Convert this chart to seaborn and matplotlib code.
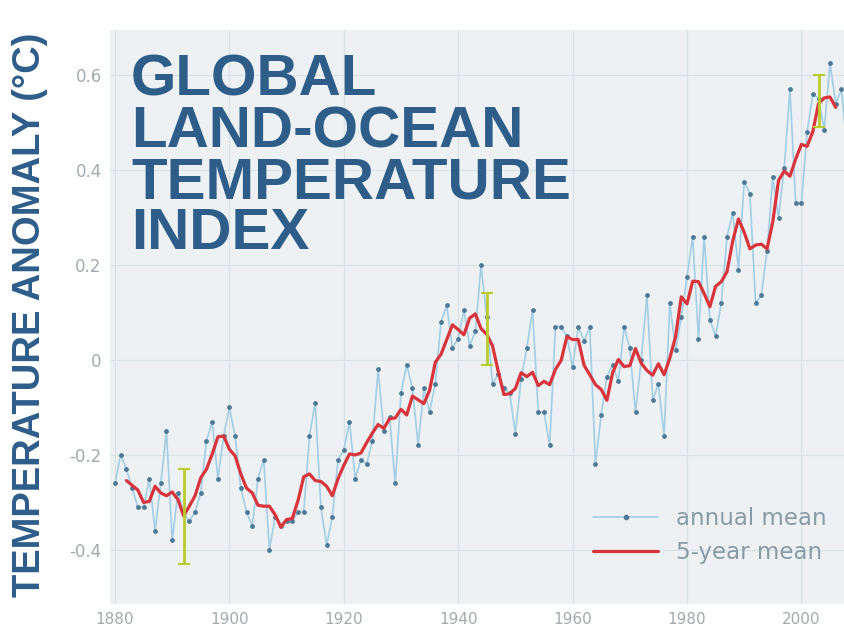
import matplotlib
matplotlib.use("Agg")
import matplotlib.pyplot as plt
from matplotlib.lines import Line2D
import seaborn as sns
import pandas as pd

# annual global land-ocean temperature anomaly (deg C), 1880-2008
years = list(range(1880, 2009))
annual_mean = [
    -0.26, -0.20, -0.23, -0.27, -0.31, -0.31, -0.25, -0.36, -0.26, -0.15,  # 1880s
    -0.38, -0.28, -0.32, -0.34, -0.32, -0.28, -0.17, -0.13, -0.25, -0.16,  # 1890s
    -0.10, -0.16, -0.27, -0.32, -0.35, -0.25, -0.21, -0.40, -0.33, -0.35,  # 1900s
    -0.34, -0.34, -0.32, -0.32, -0.16, -0.09, -0.31, -0.39, -0.33, -0.21,  # 1910s
    -0.19, -0.13, -0.25, -0.21, -0.22, -0.17, -0.02, -0.15, -0.12, -0.26,  # 1920s
    -0.07, -0.01, -0.06, -0.18, -0.06, -0.11, -0.05, 0.08, 0.115, 0.025,   # 1930s
    0.045, 0.105, 0.03, 0.06, 0.20, 0.09, -0.05, -0.03, -0.06, -0.07,      # 1940s
    -0.155, -0.04, 0.025, 0.105, -0.11, -0.11, -0.18, 0.07, 0.07, 0.05,    # 1950s
    -0.015, 0.07, 0.04, 0.07, -0.22, -0.115, -0.035, -0.01, -0.045, 0.07,  # 1960s
    0.025, -0.11, 0.0, 0.137, -0.085, -0.05, -0.16, 0.12, 0.02, 0.09,      # 1970s
    0.175, 0.26, 0.045, 0.26, 0.085, 0.05, 0.12, 0.26, 0.31, 0.19,         # 1980s
    0.375, 0.35, 0.12, 0.137, 0.23, 0.385, 0.30, 0.405, 0.57, 0.33,        # 1990s
    0.33, 0.48, 0.56, 0.55, 0.485, 0.625, 0.54, 0.57, 0.44,                # 2000s
]

# 5-year running mean, centred, 1882-2006
smooth_years = list(range(1882, 2007))
five_year_mean = [
    -0.254, -0.264, -0.274, -0.300, -0.298, -0.266, -0.280, -0.286,
    -0.278, -0.294, -0.328, -0.308, -0.286, -0.248, -0.230, -0.198, -0.162, -0.160,
    -0.188, -0.202, -0.240, -0.270, -0.280, -0.306, -0.308, -0.308, -0.326, -0.352,
    -0.336, -0.334, -0.296, -0.246, -0.240, -0.254, -0.256, -0.266, -0.286, -0.250,
    -0.222, -0.198, -0.200, -0.196, -0.174, -0.154, -0.136, -0.144, -0.124, -0.122,
    -0.104, -0.116, -0.076, -0.084, -0.092, -0.064, -0.005, 0.012, 0.043, 0.074,
    0.064, 0.053, 0.088, 0.097, 0.066, 0.054, 0.030, -0.024, -0.073, -0.071,
    -0.060, -0.027, -0.035, -0.026, -0.054, -0.045, -0.052, -0.020, -0.001, 0.049,
    0.043, 0.043, -0.011, -0.031, -0.052, -0.062, -0.085, -0.027, 0.001, -0.014,
    -0.012, 0.024, -0.007, -0.022, -0.032, -0.008, -0.031, 0.004, 0.049, 0.133,
    0.118, 0.166, 0.165, 0.140, 0.112, 0.155, 0.165, 0.186, 0.251, 0.297,
    0.269, 0.234, 0.242, 0.244, 0.234, 0.291, 0.378, 0.398, 0.387, 0.423,
    0.454, 0.450, 0.481, 0.540, 0.552, 0.554, 0.532,
]

# uncertainty bars
err_years = [1892, 1945, 2003]
err_center = [-0.33, 0.065, 0.545]
err_half = [0.10, 0.075, 0.055]

x_ticks = [1880, 1900, 1920, 1940, 1960, 1980, 2000]
y_ticks = [-0.4, -0.2, 0, 0.2, 0.4, 0.6]
y_tick_labels = ["-0.4", "-0.2", "0", "0.2", "0.4", "0.6"]

title_text = "GLOBAL\nLAND-OCEAN\nTEMPERATURE\nINDEX"
ylabel_text = "TEMPERATURE ANOMALY (°C)"

BLUE_TXT = "#2e5d8a"
LINE_BLUE = "#a2cde4"
DOT_BLUE = "#4f7894"
RED = "#d8343c"
ERR = "#b9cc2c"
TICK_GRAY = "#a3a9ad"

sns.set_style("whitegrid", {
    "axes.facecolor": "#edf1f4",
    "grid.color": "#dbe2e6",
    "axes.edgecolor": "#edf1f4",
})
plt.rcParams["font.family"] = ["DejaVu Sans"]

df_annual = pd.DataFrame({"year": years, "anomaly": annual_mean})
df_smooth = pd.DataFrame({"year": smooth_years, "anomaly": five_year_mean})

fig = plt.figure(figsize=(8.44, 6.38), dpi=100)
ax = fig.add_axes([110 / 844, 1 - 604 / 638, 734 / 844, 574 / 638])

sns.lineplot(data=df_annual, x="year", y="anomaly", ax=ax, color=LINE_BLUE,
             linewidth=1.2, zorder=2)
sns.scatterplot(data=df_annual, x="year", y="anomaly", ax=ax, color=DOT_BLUE,
                s=12, linewidth=0, zorder=3)
sns.lineplot(data=df_smooth, x="year", y="anomaly", ax=ax, color=RED,
             linewidth=2.3, zorder=4)
ax.errorbar(err_years, err_center, yerr=err_half, fmt="none", ecolor=ERR,
            elinewidth=2, capsize=4, capthick=1.5, zorder=5)

ax.set_xlim(1879.13, 2007.45)
ax.set_ylim(-0.514, 0.695)
ax.set_xticks(x_ticks)
ax.set_xticklabels([str(y) for y in x_ticks])
ax.set_yticks(y_ticks)
ax.set_yticklabels(y_tick_labels)
ax.tick_params(axis="both", length=0, colors=TICK_GRAY)
ax.tick_params(axis="y", pad=6, labelsize=12)
ax.tick_params(axis="x", pad=6, labelsize=11)
ax.set_xlabel("")
ax.set_ylabel("")
ax.grid(True, linewidth=0.9)
for s in ax.spines.values():
    s.set_visible(False)

fig.text(131 / 844, 1 - 54 / 638, title_text, ha="left", va="top",
         fontsize=42, fontweight="bold", family="Liberation Sans",
         color=BLUE_TXT, linespacing=0.93)
fig.text(30 / 844, 1 - 315 / 638, ylabel_text, rotation=90, ha="center",
         va="center", fontsize=27.5, fontweight="bold", family="Liberation Sans",
         color=BLUE_TXT)

handles = [
    Line2D([], [], color=LINE_BLUE, linewidth=1.2, marker="o", markersize=4,
           markerfacecolor=DOT_BLUE, markeredgewidth=0),
    Line2D([], [], color=RED, linewidth=2.3),
]
ax.legend(handles, ["annual mean", "5-year mean"], loc="lower right",
          bbox_to_anchor=(1.005, 0.033), frameon=False, fontsize=16.5,
          labelcolor="#8a9aa4", handlelength=2.84, handletextpad=0.79,
          labelspacing=0.5, numpoints=1)

fig.savefig("out.png", dpi=100, facecolor="white")
